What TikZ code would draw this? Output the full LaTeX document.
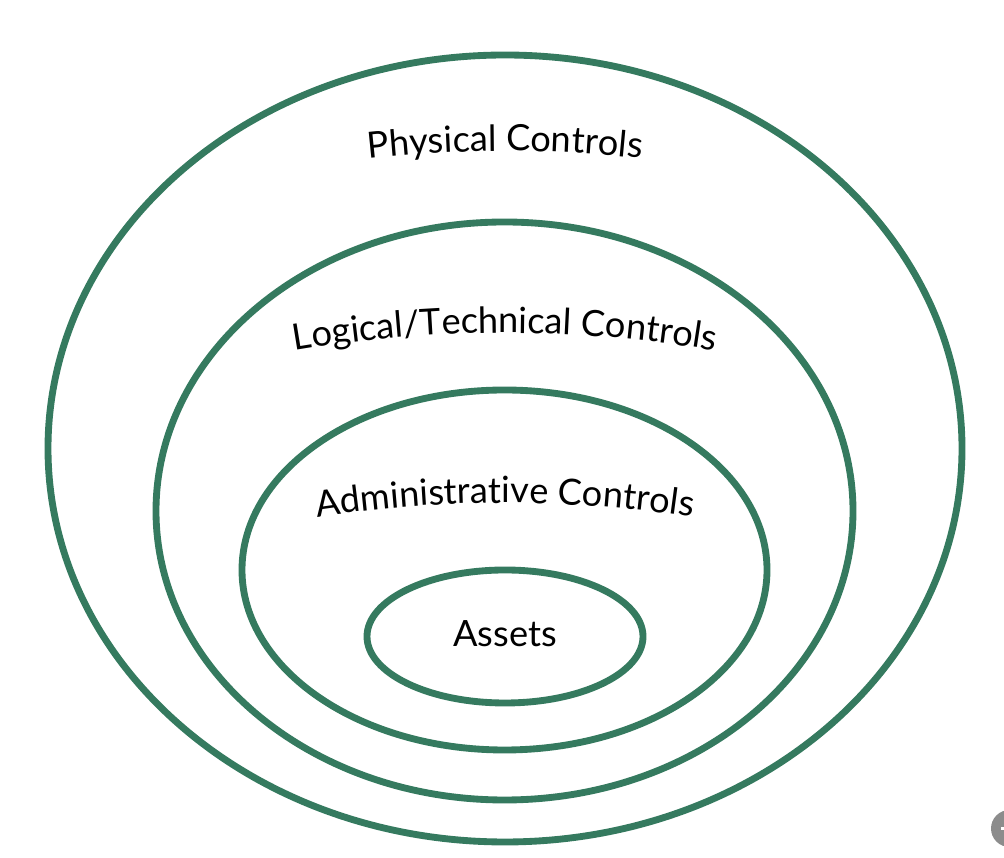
\documentclass[tikz,border=0pt]{standalone}
\usepackage{fontspec}
\setmainfont{Lato}
\usetikzlibrary{decorations.text}
\definecolor{ringgreen}{RGB}{53,122,95}
\newcommand{\ringfont}{\fontsize{20.6pt}{23pt}\selectfont}

\begin{document}
\begin{tikzpicture}[x=0.02cm, y=0.02cm,
    ring/.style={draw=ringgreen, line width=3.9pt},
    arctext/.style={decorate, decoration={text along path, text align=center, text={|\ringfont|#1}}},
    every node/.style={align=center, font=\ringfont}]

    \useasboundingbox (0,0) rectangle (1004,858);

    % Ellipsen (von aussen nach innen)
    \draw[ring] (505,409.5) ellipse (457 and 393.5);   % Physical
    \draw[ring] (504.5,347) ellipse (348.5 and 289);   % Logical/Technical
    \draw[ring] (504.5,288) ellipse (262.5 and 180);   % Administrative
    \draw[ring] (505,221.5) ellipse (138 and 66.5);    % Assets

    % Beschriftungen im Bogen
    \path[arctext={Physical Controls}] ([shift={(102:1250)}]505,-543) arc[start angle=102, end angle=78, radius=1250];
    \path[arctext={Logical/Technical Controls}] ([shift={(102:1250)}]505,-725) arc[start angle=102, end angle=78, radius=1250];
    \path[arctext={Administrative Controls}] ([shift={(102:1250)}]505,-895) arc[start angle=102, end angle=78, radius=1250];

    % Label innen
    \node[anchor=base] (assets) at (505,211) {Assets};

    % Knopf rechts unten
    \begin{scope}
        \clip (0,0) rectangle (1004,858);
        \fill[gray!90] (1009.5,29.5) circle (18.5);
        \draw[white, line width=1.5pt] (1001,29.5) -- (1004,29.5);
    \end{scope}

\end{tikzpicture}
\end{document}
